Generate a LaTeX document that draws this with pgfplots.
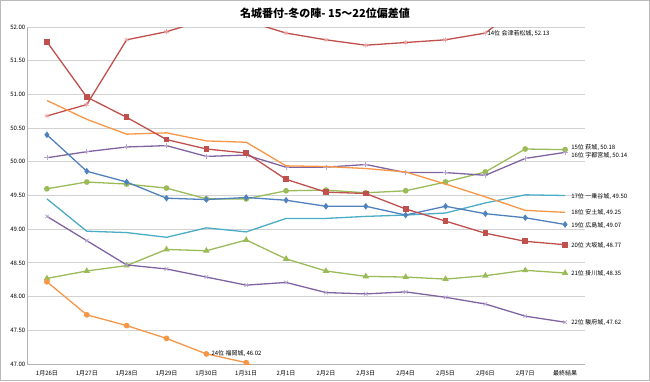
\documentclass[border=0pt]{standalone}
\usepackage{pgfplots}
\pgfplotsset{compat=1.18}
\usepackage{pgfplotstable}
\usepackage{fontspec}
\setmainfont{Noto Sans CJK JP}
\definecolor{xblue}{HTML}{4F81BD}
\definecolor{xred}{HTML}{C0504D}
\definecolor{xgreen}{HTML}{9BBB59}
\definecolor{xpurple}{HTML}{8064A2}
\definecolor{xaqua}{HTML}{4BACC6}
\definecolor{xorange}{HTML}{F79646}
\definecolor{xpink}{HTML}{E8A3A3}
\definecolor{xlpurple}{HTML}{B7A6D0}

\pgfplotstableread{
x s14 s15 s16 s17 s18 s19 s20 s21 s22 s24
0 50.68 49.60 50.06 49.45 50.91 50.40 51.78 48.27 49.19 48.22
1 50.85 49.70 50.15 48.97 50.63 49.86 50.96 48.38 48.83 47.73
2 51.81 49.67 50.22 48.95 50.41 49.70 50.66 48.46 48.47 47.57
3 51.93 49.61 50.24 48.88 50.43 49.46 50.33 48.70 48.41 47.38
4 52.11 49.45 50.08 49.02 50.31 49.44 50.19 48.68 48.29 47.15
5 52.09 49.45 50.10 48.96 50.29 49.47 50.13 48.84 48.17 47.02
6 51.91 49.57 49.92 49.16 49.94 49.43 49.74 48.56 48.21 46.70
7 51.81 49.58 49.92 49.16 49.93 49.34 49.55 48.38 48.06 46.60
8 51.73 49.54 49.96 49.19 49.90 49.34 49.53 48.30 48.04 46.50
9 51.77 49.57 49.84 49.21 49.85 49.21 49.30 48.29 48.07 46.40
10 51.81 49.70 49.84 49.24 49.67 49.34 49.12 48.26 47.99 46.30
11 51.91 49.85 49.80 49.39 49.48 49.23 48.94 48.31 47.89 46.20
12 52.37 50.19 50.05 49.51 49.28 49.17 48.82 48.39 47.71 46.10
13 52.13 50.18 50.14 49.50 49.25 49.07 48.77 48.35 47.62 46.02
}\data

\begin{document}
\begin{tikzpicture}[x=1bp,y=1bp]
\draw[gray!55, line width=0.8bp] (0.4,0.4) rectangle (649.6,380.6);
\node[font=\bfseries\fontsize{11bp}{13bp}\selectfont] at (325,368) {名城番付-冬の陣- 15～22位偏差値};
\begin{axis}[
  at={(27bp,17bp)}, anchor=south west,
  scale only axis, width=558bp, height=337bp,
  xmin=-0.5, xmax=13.5, ymin=47, ymax=52,
  xtick={0,...,13},
  xticklabels={1月26日,1月27日,1月28日,1月29日,1月30日,1月31日,2月1日,2月2日,2月3日,2月4日,2月5日,2月6日,2月7日,最終結果},
  ytick={47,47.5,...,52},
  yticklabel style={/pgf/number format/fixed, /pgf/number format/fixed zerofill, /pgf/number format/precision=2, inner xsep=1.5bp},
  xticklabel style={yshift=-3bp},
  /pgf/number format/assume math mode=true,
  tick label style={font=\fontsize{6bp}{7bp}\selectfont},
  axis x line*=bottom, axis y line*=left,
  axis line style={gray!60, line width=0.8bp, -},
  tick style={draw=none},
  ymajorgrids, grid style={gray!35, line width=0.9bp},
  clip mode=individual, clip marker paths=true,
  every axis plot/.append style={line width=1.3bp},
]
\addplot[xred, mark=asterisk, mark size=2.5bp, mark options={xpink, line width=0.7bp}] table[x=x,y=s14]{\data};
\addplot[xgreen, mark=*, mark size=2.2bp] table[x=x,y=s15]{\data};
\addplot[xpurple, mark=+, mark size=2.5bp, mark options={xlpurple, line width=0.7bp}] table[x=x,y=s16]{\data};
\addplot[xaqua, no marks] table[x=x,y=s17]{\data};
\addplot[xorange, no marks] table[x=x,y=s18]{\data};
\addplot[xblue, mark=diamond*, mark size=2.3bp] table[x=x,y=s19]{\data};
\addplot[xred, mark=square*, mark size=2.2bp] table[x=x,y=s20]{\data};
\addplot[xgreen, mark=triangle*, mark size=2.5bp] table[x=x,y=s21]{\data};
\addplot[xpurple, mark=x, mark size=2.5bp, mark options={xlpurple, line width=0.7bp}] table[x=x,y=s22]{\data};
\addplot[xorange, mark=*, mark size=2.2bp] table[x=x,y=s24]{\data};
\begin{scope}[every node/.style={anchor=west, inner sep=0pt, font=\fontsize{6bp}{7bp}\selectfont}]
\node[xshift=2bp] at (axis cs:11,51.90) {14位 会津若松城, 52.13};
\node[xshift=5bp] at (axis cs:4,47.15) {24位 福岡城, 46.02};
\node[xshift=6bp] at (axis cs:13,50.21) {15位 萩城, 50.18};
\node[xshift=6bp] at (axis cs:13,50.10) {16位 宇都宮城, 50.14};
\node[xshift=6bp] at (axis cs:13,49.49) {17位 一乗谷城, 49.50};
\node[xshift=6bp] at (axis cs:13,49.24) {18位 安土城, 49.25};
\node[xshift=6bp] at (axis cs:13,49.06) {19位 広島城, 49.07};
\node[xshift=6bp] at (axis cs:13,48.76) {20位 大坂城, 48.77};
\node[xshift=6bp] at (axis cs:13,48.34) {21位 掛川城, 48.35};
\node[xshift=6bp] at (axis cs:13,47.61) {22位 駿府城, 47.62};
\end{scope}
\end{axis}
\end{tikzpicture}
\end{document}
